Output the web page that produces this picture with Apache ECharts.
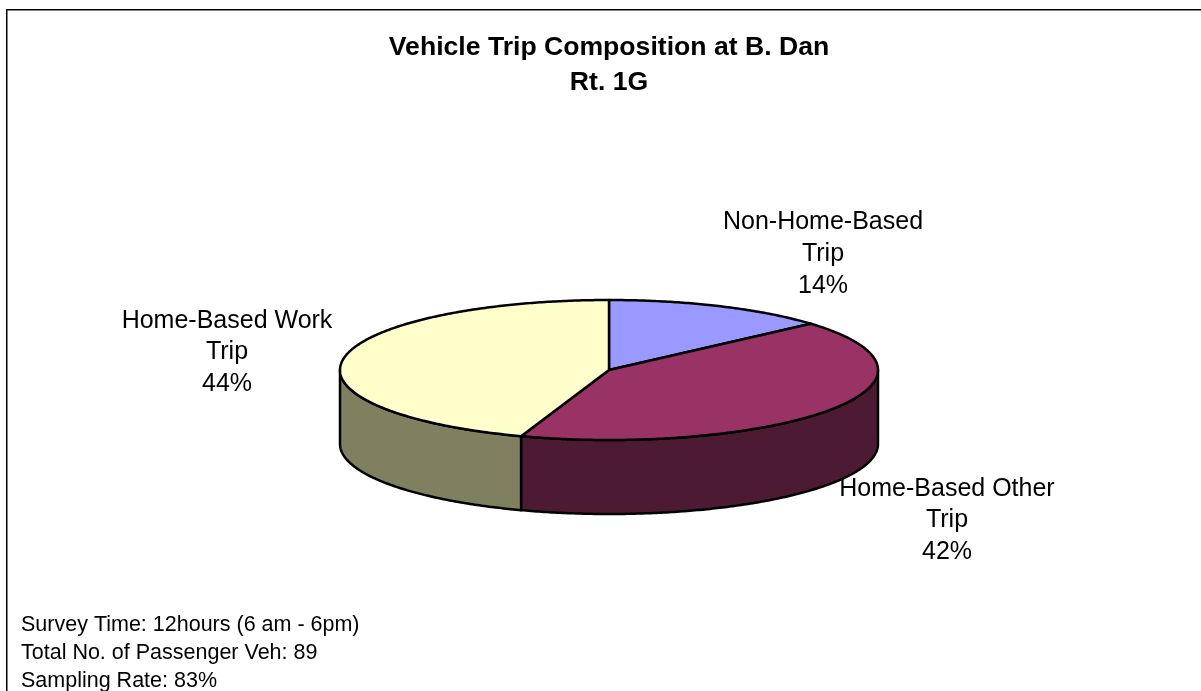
<!DOCTYPE html>
<html><head><meta charset="utf-8">
<style>html,body{margin:0;padding:0;background:#fff}#c{width:1201px;height:691px}</style>
<script src="https://cdn.jsdelivr.net/npm/echarts@6/dist/echarts.min.js"></script>
</head><body><div id="c"></div>
<script>
const categories = ['Non-Home-Based\nTrip', 'Home-Based Other\nTrip', 'Home-Based Work\nTrip'];
const values = [13.5, 41.8, 44.7];
const percentLabels = ['14%', '42%', '44%'];
const topColors = ['#9999FF', '#993366', '#FFFFCC'];
const sideColors = ['#4D4D80', '#4D1A33', '#808060'];
const titleLines = 'Vehicle Trip Composition at B. Dan\nRt. 1G';
const noteLines = 'Survey Time: 12hours (6 am - 6pm)\nTotal No. of Passenger Veh: 89\nSampling Rate: 83%';

const FONT = '"Liberation Sans", Arial, sans-serif';
const CX = 609, CY = 370, RX = 269, RY = 70, DEPTH = 74;
const total = values.reduce((a, b) => a + b, 0);
const pt = (ang, dy) => [CX + RX * Math.sin(ang), CY - RY * Math.cos(ang) + (dy || 0)];
function arc(a0, a1, dy) {
  const n = Math.max(2, Math.ceil(Math.abs(a1 - a0) / 0.01));
  const out = [];
  for (let i = 0; i <= n; i++) out.push(pt(a0 + (a1 - a0) * i / n, dy));
  return out;
}
let cum = 0;
const slices = values.map(v => { const a0 = cum / total * 2 * Math.PI; cum += v; return [a0, cum / total * 2 * Math.PI]; });
const line = { stroke: '#000', lineWidth: 2.5, lineJoin: 'round' };

function renderItem(params, api) {
  const i = params.dataIndex;
  const [a0, a1] = slices[i];
  const children = [];
  const s0 = Math.max(a0, Math.PI / 2), s1 = Math.min(a1, 3 * Math.PI / 2);
  if (s1 > s0) {
    children.push({ type: 'polygon', shape: { points: arc(s0, s1, 0).concat(arc(s1, s0, DEPTH)) },
      style: Object.assign({ fill: sideColors[i] }, line) });
  }
  children.push({ type: 'polygon', shape: { points: [[CX, CY]].concat(arc(a0, a1, 0)) },
    style: Object.assign({ fill: topColors[i] }, line) });
  return { type: 'group', children };
}

const labelStyle = i => ({ text: categories[i] + '\n' + percentLabels[i], font: '25px ' + FONT, lineHeight: 31.7, fill: '#000', align: 'center', verticalAlign: 'top' });
const chart = echarts.init(document.getElementById('c'), null, { renderer: 'canvas' });
chart.setOption({
  backgroundColor: '#fff',
  animation: false,
  graphic: [
    { type: 'polyline', shape: { points: [[6.75, 691], [6.75, 9.75], [1201, 9.75]] }, style: { stroke: '#000', lineWidth: 1.5, fill: 'none' }, silent: true },
    { type: 'text', x: 609, y: 30.5, style: { text: titleLines, font: 'bold 26.6px ' + FONT, lineHeight: 35, fill: '#000', align: 'center', verticalAlign: 'top' } },
    { type: 'text', x: 823, y: 206.5, style: labelStyle(0) },
    { type: 'text', x: 947, y: 473, z: 10, style: labelStyle(1) },
    { type: 'text', x: 227, y: 305, style: labelStyle(2) },
    { type: 'text', x: 21, y: 611.5, style: { text: noteLines, font: '21.5px ' + FONT, lineHeight: 28, fill: '#000', align: 'left', verticalAlign: 'top' } }
  ],
  series: [{ type: 'custom', coordinateSystem: 'none', renderItem, silent: true,
    data: values.map((v, i) => ({ name: categories[i], value: v })) }]
});
</script></body></html>
